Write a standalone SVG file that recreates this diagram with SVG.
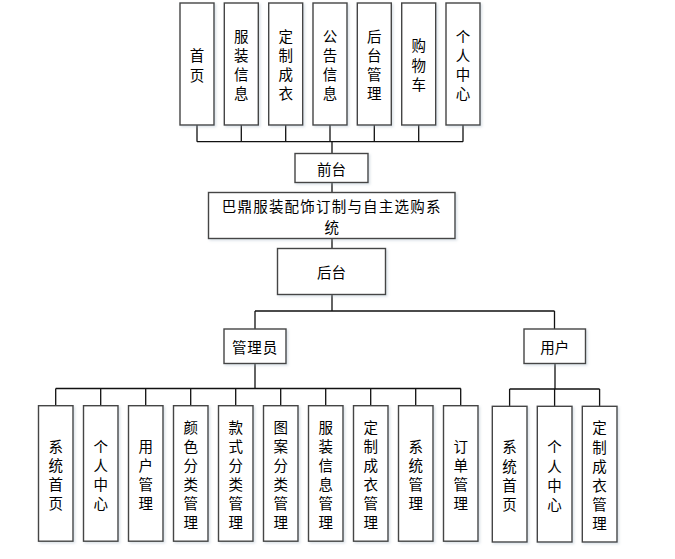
<svg xmlns="http://www.w3.org/2000/svg" width="675" height="559" viewBox="0 0 675 559">
<defs>
<filter id="sh" x="-20%" y="-20%" width="140%" height="140%">
<feDropShadow dx="1.5" dy="1.5" stdDeviation="1" flood-color="#9ab" flood-opacity="0.35"/>
</filter>
</defs>
<style>
.box{fill:#fff;stroke:#444;stroke-width:1.4;filter:url(#sh)}
.ln{fill:none;stroke:#111;stroke-width:1.3}
text{font-family:"Noto Sans CJK SC","Microsoft YaHei",sans-serif;font-size:14.5px;fill:#000;text-anchor:middle;dominant-baseline:central}
</style>
<rect width="675" height="559" fill="#fff"/>
<g id="connectors">
<path class="ln" d="M197 125V141.7M241.3 125V141.7M285.7 125V141.7M330 125V141.7M374.3 125V141.7M418.7 125V141.7M463 125V141.7M197 141.7H463M332 141.7V153.5"/>
<path class="ln" d="M332 182.5V192.5M332 238.5V248.5M332 294.5V311M255 311H554.5M255 311V329M554.5 311V329"/>
<path class="ln" d="M255 363.5V388.5M55.7 388.5H460.8M55.7 388.5V405.7M100.7 388.5V405.7M145.7 388.5V405.7M190.7 388.5V405.7M235.7 388.5V405.7M280.7 388.5V405.7M325.7 388.5V405.7M370.7 388.5V405.7M415.7 388.5V405.7M460.7 388.5V405.7"/>
<path class="ln" d="M555 363.5V389M509.6 389H599.6M509.6 389V406.3M554.6 389V406.3M599.6 389V406.3"/>
</g>
<g id="n-shouye"><rect class="box" x="180" y="3" width="34" height="122"/><text x="197" y="54.5">首<tspan x="197" dy="19">页</tspan></text></g>
<g id="n-fuzhuang"><rect class="box" x="224.3" y="3" width="34" height="122"/><text x="241.3" y="35">服<tspan x="241.3" dy="19">装</tspan><tspan x="241.3" dy="19">信</tspan><tspan x="241.3" dy="19">息</tspan></text></g>
<g id="n-dingzhi"><rect class="box" x="268.7" y="3" width="34" height="122"/><text x="285.7" y="35">定<tspan x="285.7" dy="19">制</tspan><tspan x="285.7" dy="19">成</tspan><tspan x="285.7" dy="19">衣</tspan></text></g>
<g id="n-gonggao"><rect class="box" x="313" y="3" width="34" height="122"/><text x="330" y="35">公<tspan x="330" dy="19">告</tspan><tspan x="330" dy="19">信</tspan><tspan x="330" dy="19">息</tspan></text></g>
<g id="n-houtaiguanli"><rect class="box" x="357.3" y="3" width="34" height="122"/><text x="374.3" y="35">后<tspan x="374.3" dy="19">台</tspan><tspan x="374.3" dy="19">管</tspan><tspan x="374.3" dy="19">理</tspan></text></g>
<g id="n-gouwuche"><rect class="box" x="401.7" y="3" width="34" height="122"/><text x="418.7" y="44.5">购<tspan x="418.7" dy="19">物</tspan><tspan x="418.7" dy="19">车</tspan></text></g>
<g id="n-geren"><rect class="box" x="446" y="3" width="34" height="122"/><text x="463" y="35">个<tspan x="463" dy="19">人</tspan><tspan x="463" dy="19">中</tspan><tspan x="463" dy="19">心</tspan></text></g>
<g id="n-qiantai"><rect class="box" x="295" y="153.5" width="73" height="29"/><text x="331.5" y="168">前台</text></g>
<g id="n-system"><rect class="box" x="208.5" y="192.5" width="246.5" height="46"/><text x="331.7" y="205" style="letter-spacing:1.2px">巴鼎服装配饰订制与自主选购系</text><text x="331.7" y="226">统</text></g>
<g id="n-houtai"><rect class="box" x="277.5" y="248.5" width="108" height="46"/><text x="331.5" y="271.5">后台</text></g>
<g id="n-admin"><rect class="box" x="224" y="329" width="62" height="34.5"/><text x="255" y="346.3" style="letter-spacing:0.8px">管理员</text></g>
<g id="n-user"><rect class="box" x="524" y="329" width="61.5" height="34.5"/><text x="554.7" y="346.3">用户</text></g>
<g id="a-xitongshouye"><rect class="box" x="38.5" y="405.7" width="34.5" height="135.5"/><text x="55.7" y="445">系<tspan x="55.7" dy="19">统</tspan><tspan x="55.7" dy="19">首</tspan><tspan x="55.7" dy="19">页</tspan></text></g>
<g id="a-geren"><rect class="box" x="83.5" y="405.7" width="34.5" height="135.5"/><text x="100.7" y="445">个<tspan x="100.7" dy="19">人</tspan><tspan x="100.7" dy="19">中</tspan><tspan x="100.7" dy="19">心</tspan></text></g>
<g id="a-yonghu"><rect class="box" x="128.5" y="405.7" width="34.5" height="135.5"/><text x="145.7" y="445">用<tspan x="145.7" dy="19">户</tspan><tspan x="145.7" dy="19">管</tspan><tspan x="145.7" dy="19">理</tspan></text></g>
<g id="a-yanse"><rect class="box" x="173.5" y="405.7" width="34.5" height="135.5"/><text x="190.7" y="426">颜<tspan x="190.7" dy="19">色</tspan><tspan x="190.7" dy="19">分</tspan><tspan x="190.7" dy="19">类</tspan><tspan x="190.7" dy="19">管</tspan><tspan x="190.7" dy="19">理</tspan></text></g>
<g id="a-kuanshi"><rect class="box" x="218.5" y="405.7" width="34.5" height="135.5"/><text x="235.7" y="426">款<tspan x="235.7" dy="19">式</tspan><tspan x="235.7" dy="19">分</tspan><tspan x="235.7" dy="19">类</tspan><tspan x="235.7" dy="19">管</tspan><tspan x="235.7" dy="19">理</tspan></text></g>
<g id="a-tuan"><rect class="box" x="263.5" y="405.7" width="34.5" height="135.5"/><text x="280.7" y="426">图<tspan x="280.7" dy="19">案</tspan><tspan x="280.7" dy="19">分</tspan><tspan x="280.7" dy="19">类</tspan><tspan x="280.7" dy="19">管</tspan><tspan x="280.7" dy="19">理</tspan></text></g>
<g id="a-fuzhuang"><rect class="box" x="308.5" y="405.7" width="34.5" height="135.5"/><text x="325.7" y="426">服<tspan x="325.7" dy="19">装</tspan><tspan x="325.7" dy="19">信</tspan><tspan x="325.7" dy="19">息</tspan><tspan x="325.7" dy="19">管</tspan><tspan x="325.7" dy="19">理</tspan></text></g>
<g id="a-dingzhi"><rect class="box" x="353.5" y="405.7" width="34.5" height="135.5"/><text x="370.7" y="426">定<tspan x="370.7" dy="19">制</tspan><tspan x="370.7" dy="19">成</tspan><tspan x="370.7" dy="19">衣</tspan><tspan x="370.7" dy="19">管</tspan><tspan x="370.7" dy="19">理</tspan></text></g>
<g id="a-xitong"><rect class="box" x="398.5" y="405.7" width="34.5" height="135.5"/><text x="415.7" y="445">系<tspan x="415.7" dy="19">统</tspan><tspan x="415.7" dy="19">管</tspan><tspan x="415.7" dy="19">理</tspan></text></g>
<g id="a-dingdan"><rect class="box" x="443.5" y="405.7" width="34.5" height="135.5"/><text x="460.7" y="445">订<tspan x="460.7" dy="19">单</tspan><tspan x="460.7" dy="19">管</tspan><tspan x="460.7" dy="19">理</tspan></text></g>
<g id="u-xitongshouye"><rect class="box" x="492.3" y="406.3" width="34.7" height="135.7"/><text x="509.6" y="445.5">系<tspan x="509.6" dy="19">统</tspan><tspan x="509.6" dy="19">首</tspan><tspan x="509.6" dy="19">页</tspan></text></g>
<g id="u-geren"><rect class="box" x="537.3" y="406.3" width="34.7" height="135.7"/><text x="554.6" y="445.5">个<tspan x="554.6" dy="19">人</tspan><tspan x="554.6" dy="19">中</tspan><tspan x="554.6" dy="19">心</tspan></text></g>
<g id="u-dingzhi"><rect class="box" x="582.3" y="406.3" width="34.7" height="135.7"/><text x="599.6" y="426.5">定<tspan x="599.6" dy="19">制</tspan><tspan x="599.6" dy="19">成</tspan><tspan x="599.6" dy="19">衣</tspan><tspan x="599.6" dy="19">管</tspan><tspan x="599.6" dy="19">理</tspan></text></g>
</svg>
